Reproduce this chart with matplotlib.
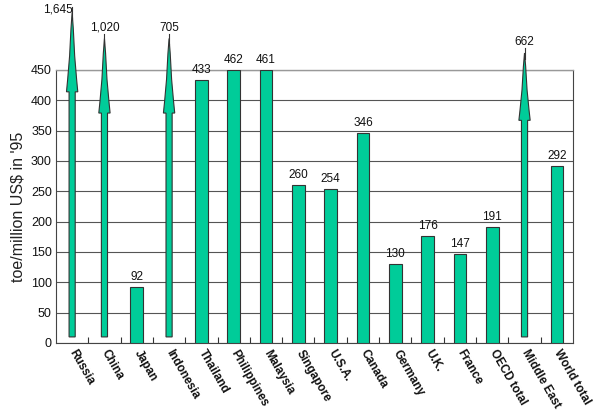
import matplotlib
matplotlib.use("Agg")
import matplotlib.pyplot as plt
from matplotlib.patches import Polygon
import numpy as np

plt.rcParams['font.family'] = ['Liberation Sans', 'DejaVu Sans']

categories = ["Russia", "China", "Japan", "Indonesia", "Thailand", "Philippines",
              "Malaysia", "Singapore", "U.S.A.", "Canada", "Germany", "U.K.",
              "France", "OECD total", "Middle East", "World total"]
values = [1645, 1020, 92, 705, 433, 462, 461, 260, 254, 346, 130, 176, 147, 191, 662, 292]
value_labels = ["1,645", "1,020", "92", "705", "433", "462", "461", "260", "254",
                "346", "130", "176", "147", "191", "662", "292"]
# off-scale values shown as arrows: (arrow head base, arrow tip) in axis units
arrow_extent = {"Russia": (414, 545), "China": (379, 502),
                "Indonesia": (379, 502), "Middle East": (367, 478)}
y_max = 450
y_ticks = list(range(0, 451, 50))

green = '#00CC99'
edge = '#333333'

fig = plt.figure(figsize=(6.0, 4.17), dpi=100)
ax = fig.add_axes([0.0933, 0.1775, 0.8617, 0.6547])

x = np.arange(len(categories))
bar_w = 0.39
shaft_hw = 0.095
head_hw = 0.175
shaft_bottom = 10

for i, (cat, v, lab) in enumerate(zip(categories, values, value_labels)):
    if cat in arrow_extent:
        base, tip = arrow_extent[cat]
        L = tip - base
        left = [(i - shaft_hw, shaft_bottom), (i - shaft_hw, base), (i - head_hw, base),
                (i - head_hw * 0.8, base + 0.15 * L), (i - head_hw * 0.45, base + 0.45 * L),
                (i - head_hw * 0.2, base + 0.8 * L)]
        right = [(2 * i - px, py) for px, py in reversed(left)]
        pts = left + [(i, tip)] + right
        poly = Polygon(pts, closed=True, facecolor=green, edgecolor=edge,
                       linewidth=0.8, clip_on=False, zorder=3)
        ax.add_patch(poly)
        ax.plot([i, i], [tip - 10, tip + 8], color=edge, lw=0.8, clip_on=False, zorder=4)
        if cat == "Russia":
            ax.text(i + 0.02, tip + 5, lab, ha='right', va='center', fontsize=8.5,
                    color='#111111', clip_on=False)
        else:
            ax.annotate(lab, (i, tip + 8), xytext=(0, 0), textcoords='offset points',
                        ha='center', va='bottom', fontsize=8.5,
                        color='#111111', annotation_clip=False)
    else:
        h = min(v, y_max)
        ax.bar(i, h, width=bar_w, color=green, edgecolor=edge, linewidth=0.8, zorder=3)
        ax.annotate(lab, (i, h), xytext=(0, 3), textcoords='offset points',
                    ha='center', va='bottom', fontsize=8.5, color='#111111',
                    annotation_clip=False)

ax.set_xlim(-0.5, len(categories) - 0.5)
ax.set_ylim(0, y_max)
ax.set_yticks(y_ticks)
ax.set_yticklabels([str(t) for t in y_ticks], fontsize=9)
ax.yaxis.grid(True, color='#555555', linewidth=0.8, zorder=0)
ax.set_axisbelow(True)

ax.set_xticks(x)
ax.set_xticklabels([])
ax.tick_params(axis='x', which='major', length=0)
ax.set_xticks(np.arange(0.5, len(categories) - 1, 1), minor=True)
ax.tick_params(axis='x', which='minor', direction='in', length=4, color='#333333', width=0.8)
ax.tick_params(axis='y', length=0, pad=3, colors='#111111')

for i, cat in enumerate(categories):
    ax.annotate(cat, (i, 0), xytext=(0, -5.5), textcoords='offset points',
                rotation=-60, rotation_mode='anchor', ha='left', va='center',
                fontsize=8.5, fontweight='bold', color='#111111', annotation_clip=False)

for s in ['left', 'bottom', 'right']:
    ax.spines[s].set_color('#444444')
    ax.spines[s].set_linewidth(0.8)
ax.spines['top'].set_color('#999999')
ax.spines['top'].set_linewidth(1.0)

ax.set_ylabel("toe/million US$ in '95", fontsize=11.5, color='#222222', labelpad=4)

fig.savefig("out.png", dpi=100)
